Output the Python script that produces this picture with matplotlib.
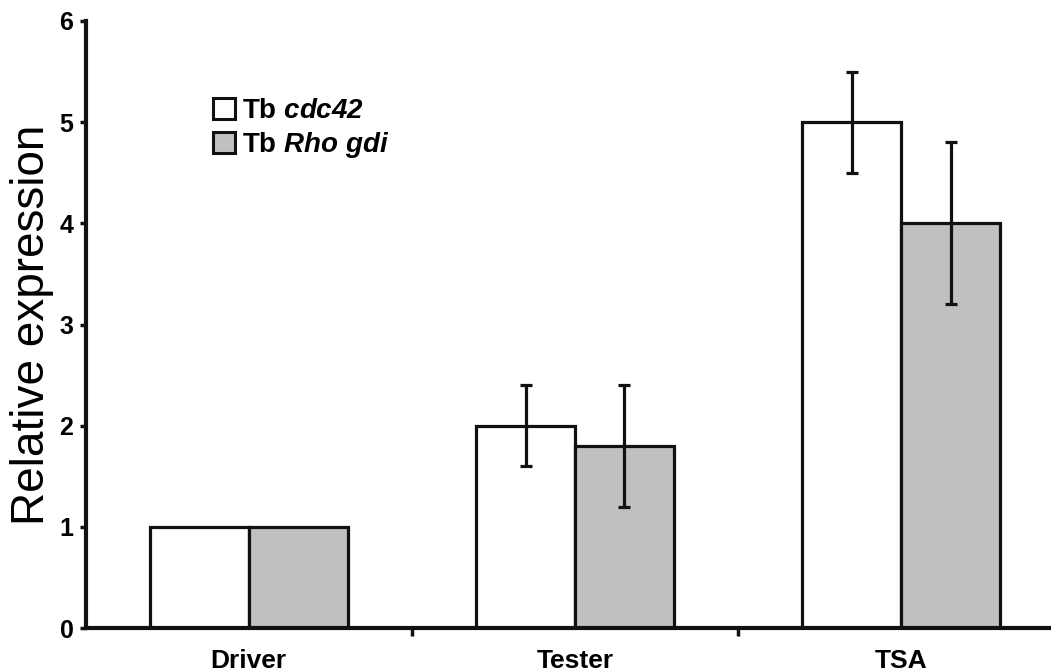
import matplotlib
matplotlib.use("Agg")
import matplotlib.pyplot as plt
from matplotlib.patches import Patch
import numpy as np

categories = ["Driver", "Tester", "TSA"]
cdc42 = [1.0, 2.0, 5.0]
cdc42_err = [0.0, 0.4, 0.5]
rhogdi = [1.0, 1.8, 4.0]
rhogdi_err = [0.0, 0.6, 0.8]
series_labels = [r"Tb $\mathbfit{cdc42}$", r"Tb $\mathbfit{Rho\ gdi}$"]
yticks = [0, 1, 2, 3, 4, 5, 6]

plt.rcParams["font.family"] = ["Liberation Sans", "DejaVu Sans"]
plt.rcParams["mathtext.fontset"] = "custom"
plt.rcParams["mathtext.rm"] = "Liberation Sans:bold"
plt.rcParams["mathtext.bf"] = "Liberation Sans:bold"
plt.rcParams["mathtext.it"] = "Liberation Sans:italic:bold"
plt.rcParams["mathtext.bfit"] = "Liberation Sans:italic:bold"

fig = plt.figure(figsize=(10.51, 6.71), dpi=100)
ax = fig.add_axes([86/1051, 1-628/671, 1-86/1051, (628-21)/671])

x = np.arange(len(categories))
w = 0.303
edge = "#111111"
ax.bar(x - w/2, cdc42, w, color="white", edgecolor=edge, linewidth=2.3, zorder=2)
ax.bar(x + w/2, rhogdi, w, color="#c0c0c0", edgecolor=edge, linewidth=2.3, zorder=2)

for off, vals, errs in [(-w/2, cdc42, cdc42_err), (w/2, rhogdi, rhogdi_err)]:
    idx = [i for i, e in enumerate(errs) if e > 0]
    ax.errorbar(x[idx] + off, [vals[i] for i in idx], yerr=[errs[i] for i in idx],
                fmt="none", ecolor=edge, elinewidth=2.3, capsize=4, capthick=2.3, zorder=3)

ax.set_xlim(-0.499, 2.459)
ax.set_ylim(0, 6)
ax.set_yticks(yticks)
ax.set_yticklabels([str(t) for t in yticks], fontsize=18, fontweight="bold")
ax.set_xticks(x)
ax.set_xticklabels(categories, fontsize=19, fontweight="bold")
ax.set_xticks([0.5, 1.5], minor=True)
ax.tick_params(axis="x", which="major", length=0, pad=15)
ax.tick_params(axis="x", which="minor", length=6, width=2.5, direction="out", color=edge)
ax.tick_params(axis="y", which="major", length=4, width=2.5, direction="out", pad=5, color=edge)

for s in ["top", "right"]:
    ax.spines[s].set_visible(False)
for s in ["left", "bottom"]:
    ax.spines[s].set_linewidth(3)
    ax.spines[s].set_color(edge)

ax.set_ylabel("Relative expression", fontsize=33, labelpad=4)

handles = [Patch(facecolor="white", edgecolor=edge, linewidth=2.2),
           Patch(facecolor="#c0c0c0", edgecolor=edge, linewidth=2.2)]
ax.legend(handles, series_labels, loc="upper left",
          bbox_to_anchor=(213/1051, 1-98/671), bbox_transform=fig.transFigure,
          frameon=False, prop={"size": 20, "weight": "bold"},
          handlelength=0.8, handleheight=0.8,
          handletextpad=0.25, labelspacing=0.2, borderpad=0, borderaxespad=0)

fig.savefig("out.png", dpi=100)
